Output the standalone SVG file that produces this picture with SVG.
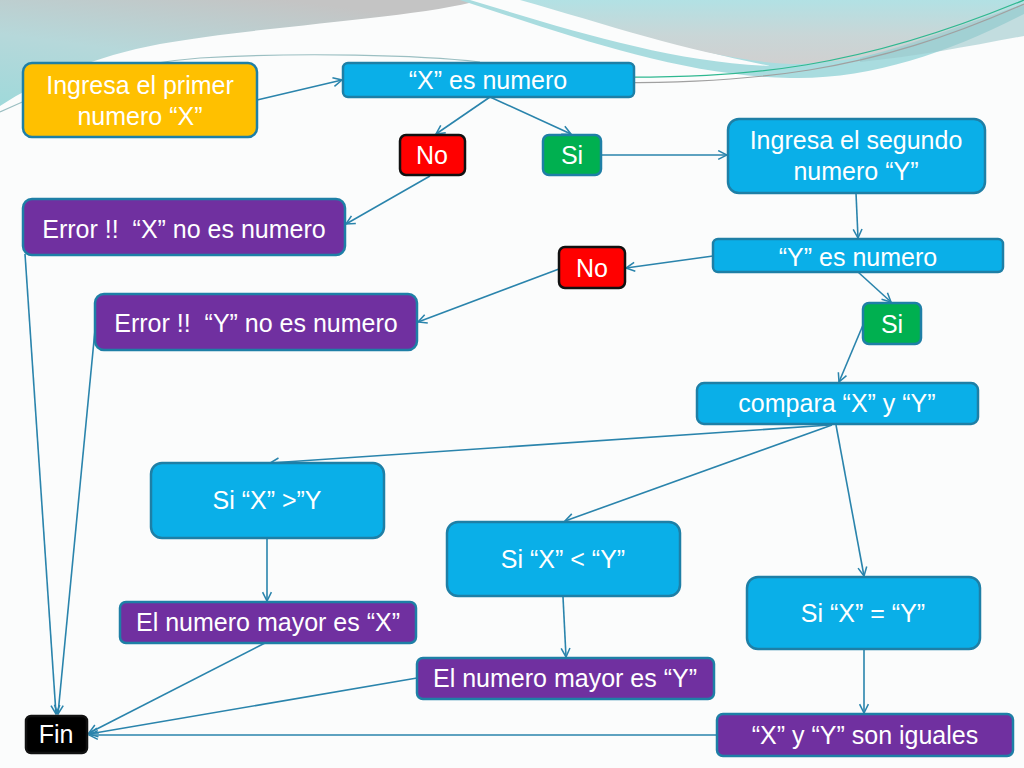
<svg xmlns="http://www.w3.org/2000/svg" width="1024" height="768" viewBox="0 0 1024 768">
<defs>
<style>
.box{stroke:#1E7FA6;stroke-width:2.5}
.blue{fill:#0AAFE8}
.purple{fill:#7030A0}
.orange{fill:#FFC000}
.green{fill:#00B050}
.red{fill:#FF0000;stroke:#111}
.black{fill:#000;stroke:#111}
.t{font-family:"Liberation Sans",Arial,sans-serif;font-size:25px;fill:#fff;text-anchor:middle}
.c{fill:none;stroke:#2A84AC;stroke-width:1.6;marker-end:url(#arr)}
</style>
<marker id="arr" viewBox="0 0 10 10" markerUnits="userSpaceOnUse" markerWidth="11" markerHeight="11" refX="9" refY="5" orient="auto">
<path d="M1,1 L9,5 L1,9" fill="none" stroke="#2A84AC" stroke-width="1.4"/>
</marker>
<linearGradient id="gL" x1="0" y1="1" x2="0.6" y2="0">
<stop offset="0" stop-color="#9fd9da"/>
<stop offset="0.5" stop-color="#b6d8da"/>
<stop offset="1" stop-color="#c4c4c4"/>
</linearGradient>
<linearGradient id="gA" x1="0" y1="0" x2="0" y2="1">
<stop offset="0" stop-color="#b2e1e4"/>
<stop offset="0.55" stop-color="#c9d6d7"/>
<stop offset="1" stop-color="#d0d0d0"/>
</linearGradient>
</defs>
<g id="background">
<rect x="0" y="0" width="1024" height="768" fill="#fbfcfc"/>
<path d="M0,0 L480,0 C420,18 260,26 160,44 C95,56 40,80 0,106 Z" fill="url(#gL)"/>
<path d="M460,0 L1024,0 L1024,14 C950,52 870,80 790,78 C680,76 570,36 460,0 Z" fill="#a9dcdf"/>
<path d="M470,0 C570,30 670,62 770,66 C690,50 590,20 530,0 Z" fill="#fbfcfc"/>
<path d="M520,0 L1024,0 L1024,6 C960,28 880,62 800,64 C720,64 620,28 520,0 Z" fill="url(#gA)"/>
<path d="M860,58 C920,42 975,20 1024,4 L1024,36 C970,46 920,56 860,62 Z" fill="#9cc8cc" opacity="0.6"/>
<path d="M0,112 C60,84 120,64 200,58 C300,52 420,55 480,62" fill="none" stroke="#9bbfc2" stroke-width="1.2"/>
<path d="M600,77 C750,79 860,68 1024,0" fill="none" stroke="#2fb890" stroke-width="1.2"/>
<path d="M560,82 C760,86 870,72 1024,4" fill="none" stroke="#a0a0a0" stroke-width="1.2"/>
</g>
<g id="connectors">
<path class="c" d="M257,100 L342,80"/>
<path class="c" d="M490,97 L436,134"/>
<path class="c" d="M490,97 L571,134"/>
<path class="c" d="M601,155 L727,155"/>
<path class="c" d="M430,176 L346,224"/>
<path class="c" d="M856,193 L858,238"/>
<path class="c" d="M713,256 L626,268"/>
<path class="c" d="M559,269 L418,322"/>
<path class="c" d="M858,272 L891,302"/>
<path class="c" d="M863,325 L839,382"/>
<path class="c" d="M830,425 L270,463"/>
<path class="c" d="M832,425 L565,521"/>
<path class="c" d="M836,425 L864,576"/>
<path class="c" d="M267,538 L267,601"/>
<path class="c" d="M563,597 L566,657"/>
<path class="c" d="M864,650 L864,713"/>
<path class="c" d="M265,643 L89,733"/>
<path class="c" d="M417,678 L89,734"/>
<path class="c" d="M717,735 L89,735"/>
<path class="c" d="M25,254 L56,714"/>
<path class="c" d="M95,330 L58,714"/>
</g>
<g id="n-ingresa-x">
<rect class="box orange" x="23" y="63" width="234" height="74" rx="9"/>
<text class="t" x="140" y="94">Ingresa el primer</text>
<text class="t" x="140" y="125">numero “X”</text>
</g>
<g id="n-x-es-numero">
<rect class="box blue" x="343" y="63" width="291" height="34" rx="5"/>
<text class="t" x="488" y="89">“X” es numero</text>
</g>
<g id="n-no-x">
<rect class="box red" x="400" y="135" width="65" height="40" rx="6"/>
<text class="t" x="432" y="164">No</text>
</g>
<g id="n-si-x">
<rect class="box green" x="543" y="135" width="58" height="40" rx="6"/>
<text class="t" x="572" y="164">Si</text>
</g>
<g id="n-ingresa-y">
<rect class="box blue" x="728" y="119" width="257" height="74" rx="11"/>
<text class="t" x="856" y="149">Ingresa el segundo</text>
<text class="t" x="856" y="180">numero “Y”</text>
</g>
<g id="n-error-x">
<rect class="box purple" x="23" y="199" width="322" height="56" rx="9"/>
<text class="t" x="184" y="238" xml:space="preserve">Error !!  “X” no es numero</text>
</g>
<g id="n-no-y">
<rect class="box red" x="559" y="247" width="66" height="41" rx="6"/>
<text class="t" x="592" y="277">No</text>
</g>
<g id="n-y-es-numero">
<rect class="box blue" x="713" y="239" width="290" height="33" rx="5"/>
<text class="t" x="858" y="266">“Y” es numero</text>
</g>
<g id="n-error-y">
<rect class="box purple" x="95" y="294" width="322" height="56" rx="9"/>
<text class="t" x="256" y="332" xml:space="preserve">Error !!  “Y” no es numero</text>
</g>
<g id="n-si-y">
<rect class="box green" x="863" y="303" width="58" height="41" rx="6"/>
<text class="t" x="892" y="333">Si</text>
</g>
<g id="n-compara">
<rect class="box blue" x="697" y="383" width="281" height="41" rx="7"/>
<text class="t" x="837" y="412">compara “X” y “Y”</text>
</g>
<g id="n-x-mayor">
<rect class="box blue" x="151" y="463" width="233" height="75" rx="11"/>
<text class="t" x="267" y="509">Si “X” &gt;”Y</text>
</g>
<g id="n-x-menor">
<rect class="box blue" x="447" y="522" width="233" height="74" rx="11"/>
<text class="t" x="563" y="568">Si “X” &lt; “Y”</text>
</g>
<g id="n-x-igual">
<rect class="box blue" x="747" y="577" width="233" height="72" rx="11"/>
<text class="t" x="863" y="622">Si “X” = “Y”</text>
</g>
<g id="n-mayor-x">
<rect class="box purple" x="120" y="602" width="296" height="41" rx="6"/>
<text class="t" x="268" y="631">El numero mayor es “X”</text>
</g>
<g id="n-mayor-y">
<rect class="box purple" x="417" y="658" width="297" height="41" rx="6"/>
<text class="t" x="565" y="687">El numero mayor es “Y”</text>
</g>
<g id="n-fin">
<rect class="box black" x="26" y="716" width="61" height="37" rx="5"/>
<text class="t" x="56" y="743">Fin</text>
</g>
<g id="n-iguales">
<rect class="box purple" x="717" y="714" width="296" height="42" rx="6"/>
<text class="t" x="865" y="744">“X” y “Y” son iguales</text>
</g>
</svg>
